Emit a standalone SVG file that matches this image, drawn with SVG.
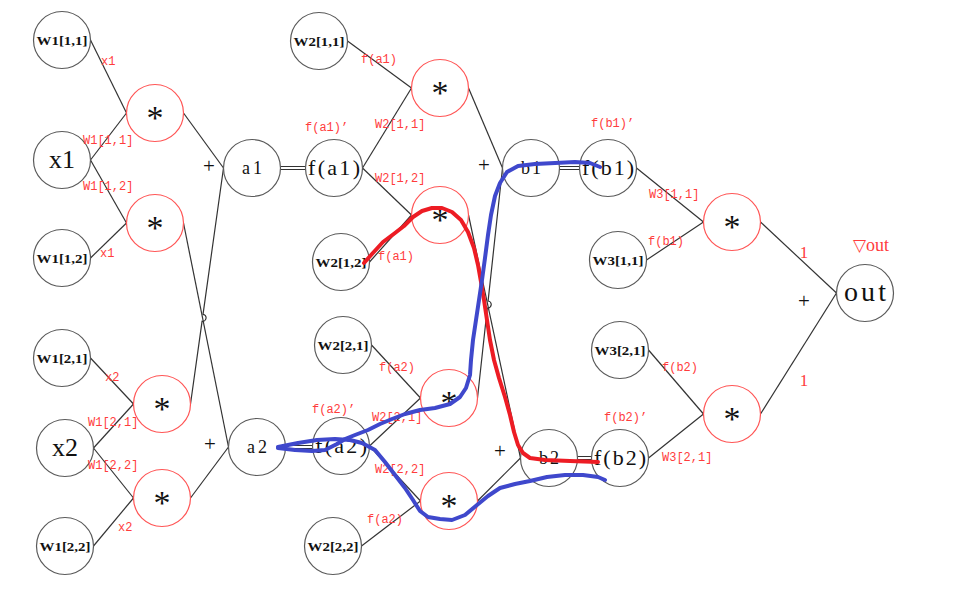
<svg xmlns="http://www.w3.org/2000/svg" width="957" height="593" viewBox="0 0 957 593">
<style>
.n circle{fill:#fff;stroke:#5a5a5a;stroke-width:1.2}
.m circle{fill:#fff;stroke:#ff5555;stroke-width:1.2}
.w{font-family:"Liberation Serif",serif;font-weight:bold;font-size:13.5px;fill:#111;text-anchor:middle}
.s{font-family:"Liberation Serif",serif;fill:#111;text-anchor:middle}
.st{font-family:"Liberation Serif",serif;font-size:34px;fill:#111;text-anchor:middle}
.l{font-family:"Liberation Mono",monospace;font-size:12px;fill:#ff3c3c}
.p{font-family:"Liberation Serif",serif;font-size:21px;fill:#111;text-anchor:middle}
#connectors line,#connectors path{stroke:#333;stroke-width:1.2;fill:none}
#connectors .d{stroke-width:1}
.hl{fill:none;stroke-width:4;stroke-linecap:round;stroke-linejoin:round}
</style>
<rect width="957" height="593" fill="#fff"/>
<g id="connectors">
<line x1="90.5" y1="40" x2="126.5" y2="113"/>
<line x1="90.5" y1="160" x2="126.5" y2="113"/>
<line x1="90.5" y1="160" x2="126.5" y2="223"/>
<line x1="90.5" y1="258" x2="126.5" y2="223"/>
<line x1="90.5" y1="358" x2="133.5" y2="404"/>
<line x1="93.5" y1="448" x2="133.5" y2="404"/>
<line x1="93.5" y1="448" x2="133.5" y2="498"/>
<line x1="93.5" y1="546" x2="133.5" y2="498"/>
<line x1="183.5" y1="113" x2="223.5" y2="168"/>
<path d="M190.5,404 L202.07,321.3 A3.5,3.5 0 0 0 203.03,314.3 L223.5,168"/>
<line x1="183.5" y1="223" x2="228.5" y2="447"/>
<line x1="190.5" y1="498" x2="228.5" y2="447"/>
<line class="d" x1="280.5" y1="166.5" x2="305.5" y2="166.5"/>
<line class="d" x1="280.5" y1="169.5" x2="305.5" y2="169.5"/>
<line class="d" x1="285.5" y1="445.5" x2="312.5" y2="445.5"/>
<line class="d" x1="285.5" y1="448.5" x2="312.5" y2="448.5"/>
<line x1="347.5" y1="41" x2="411.5" y2="88"/>
<line x1="362.5" y1="168" x2="411.5" y2="88"/>
<line x1="362.5" y1="168" x2="411.5" y2="215"/>
<line x1="369.5" y1="262" x2="411.5" y2="215"/>
<line x1="371.5" y1="345" x2="420.5" y2="398"/>
<line x1="369.5" y1="446" x2="420.5" y2="398"/>
<line x1="369.5" y1="446" x2="420.5" y2="501"/>
<line x1="361.5" y1="546" x2="420.5" y2="501"/>
<line x1="468.5" y1="88" x2="502.5" y2="168"/>
<line x1="468.5" y1="215" x2="520.5" y2="458"/>
<path d="M477.5,398 L487.3,308 A3.5,3.5 0 0 0 488.1,301 L502.5,168"/>
<line x1="477.5" y1="501" x2="520.5" y2="458"/>
<line class="d" x1="559.5" y1="166.5" x2="579.5" y2="166.5"/>
<line class="d" x1="559.5" y1="169.5" x2="579.5" y2="169.5"/>
<line class="d" x1="577.5" y1="456.5" x2="591.5" y2="456.5"/>
<line class="d" x1="577.5" y1="459.5" x2="591.5" y2="459.5"/>
<line x1="636.5" y1="168" x2="703.5" y2="222"/>
<line x1="646.5" y1="260" x2="703.5" y2="222"/>
<line x1="648.5" y1="350" x2="703.5" y2="414"/>
<line x1="648.5" y1="458" x2="703.5" y2="414"/>
<line x1="760.5" y1="222" x2="836.5" y2="293"/>
<line x1="760.5" y1="414" x2="836.5" y2="293"/>
</g>
<g id="W1_11" class="n"><circle cx="62" cy="40" r="28.5"/><text class="w" x="62" y="45" textLength="51" lengthAdjust="spacingAndGlyphs">W1[1,1]</text></g>
<g id="x1" class="n"><circle cx="62" cy="160" r="28.5"/><text class="s" x="62" y="168" font-size="26">x1</text></g>
<g id="W1_12" class="n"><circle cx="62" cy="258" r="28.5"/><text class="w" x="62" y="263" textLength="51" lengthAdjust="spacingAndGlyphs">W1[1,2]</text></g>
<g id="W1_21" class="n"><circle cx="62" cy="358" r="28.5"/><text class="w" x="62" y="363" textLength="51" lengthAdjust="spacingAndGlyphs">W1[2,1]</text></g>
<g id="x2" class="n"><circle cx="65" cy="448" r="28.5"/><text class="s" x="65" y="456" font-size="26">x2</text></g>
<g id="W1_22" class="n"><circle cx="65" cy="546" r="28.5"/><text class="w" x="65" y="551" textLength="51" lengthAdjust="spacingAndGlyphs">W1[2,2]</text></g>
<g id="m1" class="m"><circle cx="155" cy="113" r="28.5"/><text class="st" x="155" y="129">*</text></g>
<g id="m2" class="m"><circle cx="155" cy="223" r="28.5"/><text class="st" x="155" y="239">*</text></g>
<g id="m3" class="m"><circle cx="162" cy="404" r="28.5"/><text class="st" x="162" y="420">*</text></g>
<g id="m4" class="m"><circle cx="162" cy="498" r="28.5"/><text class="st" x="162" y="514">*</text></g>
<g id="a1" class="n"><circle cx="252" cy="168" r="28.5"/><text class="s" x="252" y="174" font-size="18" textLength="20" lengthAdjust="spacing">a1</text></g>
<g id="a2" class="n"><circle cx="257" cy="447" r="28.5"/><text class="s" x="257" y="453" font-size="18" textLength="20" lengthAdjust="spacing">a2</text></g>
<g id="fa1" class="n"><circle cx="334" cy="168" r="28.5"/><text class="s" x="334" y="175" font-size="22" textLength="52" lengthAdjust="spacing">f(a1)</text></g>
<g id="fa2" class="n"><circle cx="341" cy="446" r="28.5"/><text class="s" x="341" y="453" font-size="22" textLength="52" lengthAdjust="spacing">f(a2)</text></g>
<g id="W2_11" class="n"><circle cx="319" cy="41" r="28.5"/><text class="w" x="319" y="46" textLength="51" lengthAdjust="spacingAndGlyphs">W2[1,1]</text></g>
<g id="W2_12" class="n"><circle cx="341" cy="262" r="28.5"/><text class="w" x="341" y="267" textLength="51" lengthAdjust="spacingAndGlyphs">W2[1,2]</text></g>
<g id="W2_21" class="n"><circle cx="343" cy="345" r="28.5"/><text class="w" x="343" y="350" textLength="51" lengthAdjust="spacingAndGlyphs">W2[2,1]</text></g>
<g id="W2_22" class="n"><circle cx="333" cy="546" r="28.5"/><text class="w" x="333" y="551" textLength="51" lengthAdjust="spacingAndGlyphs">W2[2,2]</text></g>
<g id="m5" class="m"><circle cx="440" cy="88" r="28.5"/><text class="st" x="440" y="104">*</text></g>
<g id="m6" class="m"><circle cx="440" cy="215" r="28.5"/><text class="st" x="440" y="231">*</text></g>
<g id="m7" class="m"><circle cx="449" cy="398" r="28.5"/><text class="st" x="449" y="414">*</text></g>
<g id="m8" class="m"><circle cx="449" cy="501" r="28.5"/><text class="st" x="449" y="517">*</text></g>
<g id="b1" class="n"><circle cx="531" cy="168" r="28.5"/><text class="s" x="531" y="174" font-size="18" textLength="20" lengthAdjust="spacing">b1</text></g>
<g id="b2" class="n"><circle cx="549" cy="458" r="28.5"/><text class="s" x="549" y="464" font-size="18" textLength="20" lengthAdjust="spacing">b2</text></g>
<g id="fb1" class="n"><circle cx="608" cy="168" r="28.5"/><text class="s" x="608" y="175" font-size="22" textLength="52" lengthAdjust="spacing">f(b1)</text></g>
<g id="fb2" class="n"><circle cx="620" cy="458" r="28.5"/><text class="s" x="620" y="465" font-size="22" textLength="52" lengthAdjust="spacing">f(b2)</text></g>
<g id="W3_11" class="n"><circle cx="618" cy="260" r="28.5"/><text class="w" x="618" y="265" textLength="51" lengthAdjust="spacingAndGlyphs">W3[1,1]</text></g>
<g id="W3_21" class="n"><circle cx="620" cy="350" r="28.5"/><text class="w" x="620" y="355" textLength="51" lengthAdjust="spacingAndGlyphs">W3[2,1]</text></g>
<g id="m9" class="m"><circle cx="732" cy="222" r="28.5"/><text class="st" x="732" y="238">*</text></g>
<g id="m10" class="m"><circle cx="732" cy="414" r="28.5"/><text class="st" x="732" y="430">*</text></g>
<g id="out" class="n"><circle cx="865" cy="293" r="28.5"/><text class="s" x="865" y="301" font-size="28" textLength="42" lengthAdjust="spacing">out</text></g>
<g id="plus">
<text class="p" x="209" y="173">+</text>
<text class="p" x="210" y="451">+</text>
<text class="p" x="484" y="172">+</text>
<text class="p" x="500" y="458">+</text>
<text class="p" x="804" y="308">+</text>
</g>
<g id="labels">
<text class="l" x="101" y="65">x1</text>
<text class="l" x="83" y="144">W1[1,1]</text>
<text class="l" x="83" y="190">W1[1,2]</text>
<text class="l" x="100" y="257">x1</text>
<text class="l" x="105" y="381">x2</text>
<text class="l" x="88" y="426">W1[2,1]</text>
<text class="l" x="88" y="469">W1[2,2]</text>
<text class="l" x="118" y="531">x2</text>
<text class="l" x="361" y="63">f(a1)</text>
<text class="l" x="305" y="131">f(a1)’</text>
<text class="l" x="375" y="128">W2[1,1]</text>
<text class="l" x="375" y="182">W2[1,2]</text>
<text class="l" x="378" y="260">f(a1)</text>
<text class="l" x="379" y="371">f(a2)</text>
<text class="l" x="312" y="413">f(a2)’</text>
<text class="l" x="372" y="421">W2[2,1]</text>
<text class="l" x="375" y="473">W2[2,2]</text>
<text class="l" x="367" y="523">f(a2)</text>
<text class="l" x="591" y="127">f(b1)’</text>
<text class="l" x="649" y="198">W3[1,1]</text>
<text class="l" x="648" y="245">f(b1)</text>
<text class="l" x="662" y="371">f(b2)</text>
<text class="l" x="604" y="421">f(b2)’</text>
<text class="l" x="662" y="461">W3[2,1]</text>
<text x="804" y="258" font-family="Liberation Serif,serif" font-size="17" fill="#ff3c3c" text-anchor="middle">1</text>
<text x="804" y="386" font-family="Liberation Serif,serif" font-size="17" fill="#ff3c3c" text-anchor="middle">1</text>
<text x="853" y="251" font-family="Liberation Serif,'DejaVu Sans',serif" font-size="17" fill="#ff3c3c">▽<tspan font-size="18">out</tspan></text>
</g>
<g id="annotations">
<path class="hl" stroke="#ed1c24" d="M364,263 L372,254 L383,242 L395,233 L404,226 L413,217 L422,211 L432,208 L442,208 L452,212 L461,220 L468,232 L474,248 L478,265 L481,282 L484,300 L487,320 L490,340 L494,360 L499,378 L505,397 L510,415 L514,432 L518,445 L523,453 L530,458 L545,460 L570,461 L598,462"/>
<path class="hl" stroke="#3f48cc" d="M278,448 L295,450 L312,451 L325,450 L337,444 L345,439 L355,435 L368,430 L380,424 L392,419 L405,414 L420,410 L435,408 L450,404 L460,397 L466,388 L470,375 L471,360 L473,340 L476,320 L479,300 L482,280 L485,258 L488,235 L491,215 L495,196 L500,183 L507,172 L518,166 L535,164 L555,163 L575,162 L590,163 L600,167"/>
<path class="hl" stroke="#3f48cc" d="M278,447 L298,443 L317,440 L335,439 L350,440 L362,443 L375,450 L385,462 L395,475 L405,488 L413,500 L420,511 L428,517 L440,519 L452,520 L465,515 L477,505 L488,496 L500,488 L515,484 L530,481 L547,477 L565,475 L583,475 L598,477 L605,480"/>
</g>
</svg>
